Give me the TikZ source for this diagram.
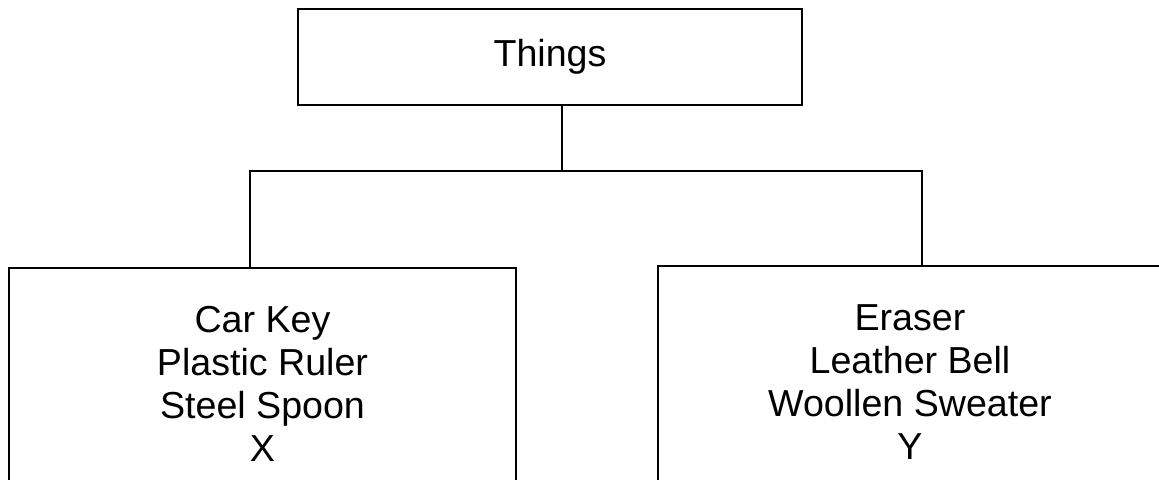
\documentclass[tikz,border=0pt]{standalone}
\usepackage{fontspec}
\setmainfont{Liberation Sans}
\usepackage{tikz}

\tikzset{
    group/.style={draw=black,line width=1pt,rectangle,align=center,
        font=\fontsize{18.8}{21.6}\selectfont,inner sep=0pt},
}

\begin{document}
\begin{tikzpicture}[x=0.5pt,y=-0.5pt]
    % Page
    \useasboundingbox (0,0) rectangle (1159,479);
    \clip (0,0) rectangle (1159,479);

    % Boxes
    \node[group,minimum width=252pt,minimum height=48pt] (things) at (550,57) {Things};
    \node[group,minimum width=253.5pt,minimum height=116pt] (groupX) at (262.5,384)
        {Car Key\\Plastic Ruler\\Steel Spoon\\X};
    \node[group,minimum width=252pt,minimum height=116pt] (groupY) at (910,382)
        {Eraser\\Leather Bell\\Woollen Sweater\\Y};

    % Branch points
    \coordinate (split) at (562,171);
    \coordinate (lstem) at (250,171);
    \coordinate (rstem) at (922,171);

    % Connectors
    \draw[line width=1pt] (things.south -| split) -- (split);
    \draw[line width=1pt] (lstem |- groupX.north) -- (lstem) -- (rstem) -- (rstem |- groupY.north);
\end{tikzpicture}
\end{document}
